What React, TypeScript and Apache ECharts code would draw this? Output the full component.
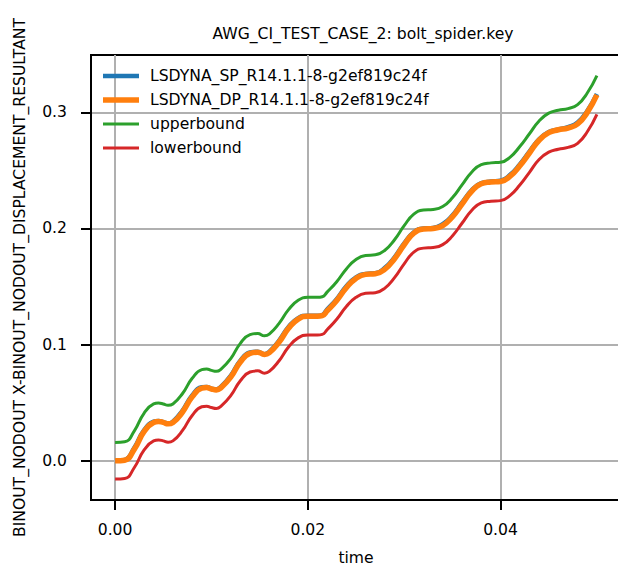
import React, { useEffect, useRef } from "react";
import * as echarts from "echarts";

const TITLE = "AWG_CI_TEST_CASE_2: bolt_spider.key";
const X_NAME = "time";
const Y_NAME = "BINOUT_NODOUT X-BINOUT_NODOUT_DISPLACEMENT_RESULTANT";

const X_TICKS = [0, 0.02, 0.04];
const Y_TICKS = [0, 0.1, 0.2, 0.3];

const SERIES_NAMES = [
  "LSDYNA_SP_R14.1.1-8-g2ef819c24f",
  "LSDYNA_DP_R14.1.1-8-g2ef819c24f",
  "upperbound",
  "lowerbound",
];

const times = [
  0, 0.001, 0.002, 0.003, 0.004, 0.0045, 0.005, 0.0055, 0.006, 0.007, 0.008,
  0.009, 0.0095, 0.01, 0.0105, 0.011, 0.012, 0.013, 0.014, 0.0148, 0.0155,
  0.016, 0.017, 0.018, 0.019, 0.02, 0.021, 0.0215, 0.022, 0.023, 0.024, 0.025,
  0.026, 0.027, 0.028, 0.029, 0.03, 0.031, 0.032, 0.033, 0.034, 0.035, 0.036,
  0.037, 0.038, 0.039, 0.04, 0.041, 0.042, 0.043, 0.044, 0.045, 0.046, 0.047,
  0.048, 0.049, 0.05,
];

const dpValues = [
  0, 0.0005, 0.01, 0.025, 0.033, 0.0338, 0.033, 0.0318, 0.033, 0.042, 0.055,
  0.0625, 0.063, 0.0618, 0.061, 0.063, 0.072, 0.085, 0.0925, 0.0935, 0.0915,
  0.093, 0.102, 0.114, 0.122, 0.1245, 0.1245, 0.125, 0.129, 0.138, 0.149, 0.157,
  0.1605, 0.161, 0.165, 0.174, 0.186, 0.196, 0.1995, 0.2, 0.2025, 0.21, 0.221,
  0.232, 0.2385, 0.24, 0.2405, 0.245, 0.254, 0.265, 0.276, 0.2825, 0.285,
  0.2865, 0.29, 0.3, 0.315,
];

const spValues = [
  0, 0.0008, 0.0112, 0.0262, 0.0336, 0.0342, 0.0333, 0.0321, 0.0336, 0.0432,
  0.0562, 0.0632, 0.0634, 0.0621, 0.0614, 0.0638, 0.0732, 0.0862, 0.0932,
  0.0939, 0.0918, 0.0938, 0.1032, 0.1152, 0.1228, 0.1249, 0.1248, 0.1255,
  0.1302, 0.1392, 0.1502, 0.1578, 0.1609, 0.1614, 0.1662, 0.1752, 0.1872,
  0.1968, 0.2, 0.2004, 0.2037, 0.2112, 0.2222, 0.2328, 0.239, 0.2404, 0.2412,
  0.2462, 0.2552, 0.2662, 0.2768, 0.283, 0.2854, 0.2872, 0.2912, 0.3012, 0.3158,
];

const upperValues = [
  0.0158, 0.0163, 0.0258, 0.0409, 0.0489, 0.0497, 0.0489, 0.0477, 0.0489,
  0.0579, 0.071, 0.0785, 0.079, 0.0778, 0.077, 0.079, 0.088, 0.1011, 0.1086,
  0.1096, 0.1076, 0.1091, 0.1181, 0.1301, 0.1382, 0.1407, 0.1407, 0.1412,
  0.1452, 0.1542, 0.1652, 0.1733, 0.1768, 0.1773, 0.1813, 0.1903, 0.2024,
  0.2124, 0.2159, 0.2164, 0.2189, 0.2264, 0.2375, 0.2485, 0.255, 0.2565, 0.257,
  0.2615, 0.2706, 0.2816, 0.2926, 0.2993, 0.3018, 0.3032, 0.3067, 0.3167,
  0.3317,
];

const lowerValues = [
  -0.0158, -0.0153, -0.0058, 0.0091, 0.0171, 0.0179, 0.0171, 0.0159, 0.0171,
  0.0261, 0.039, 0.0465, 0.047, 0.0458, 0.045, 0.047, 0.056, 0.0689, 0.0764,
  0.0774, 0.0754, 0.0769, 0.0859, 0.0979, 0.1058, 0.1083, 0.1083, 0.1088,
  0.1128, 0.1218, 0.1328, 0.1407, 0.1442, 0.1447, 0.1487, 0.1577, 0.1696,
  0.1796, 0.1831, 0.1836, 0.1861, 0.1936, 0.2045, 0.2155, 0.222, 0.2235, 0.224,
  0.2285, 0.2374, 0.2484, 0.2594, 0.2657, 0.2682, 0.2698, 0.2733, 0.2833,
  0.2983,
];

const COLORS = ["#1f77b4", "#ff7f0e", "#2ca02c", "#d62728"];
const WIDTHS = [4.5, 5.5, 3, 3];
const LEGEND_ROWS = [76, 100, 124, 148];
const FONT = "DejaVu Sans";

export default function App() {
  const ref = useRef<HTMLDivElement>(null);

  useEffect(() => {
    if (!ref.current) return;
    const chart = echarts.init(ref.current, undefined, { renderer: "svg" });
    const valueSets = [spValues, dpValues, upperValues, lowerValues];
    const series = SERIES_NAMES.map((name, i) => ({
      name,
      type: "line",
      data: times.map((t, j) => [t, valueSets[i][j]]),
      symbol: "none",
      showSymbol: false,
      smooth: 0.5,
      lineStyle: { color: COLORS[i], width: WIDTHS[i] },
      itemStyle: { color: COLORS[i] },
      z: 2 + i,
    }));

    const legends = SERIES_NAMES.map((name, i) => ({
      orient: "vertical",
      left: 103,
      top: LEGEND_ROWS[i] - 9,
      padding: 0,
      itemWidth: 36,
      itemHeight: WIDTHS[i],
      icon: "rect",
      textStyle: {
        fontFamily: FONT,
        fontSize: 15.6,
        lineHeight: 18,
        color: "#000",
        padding: [0, 0, 0, 6],
      },
      data: [{ name, icon: "rect", itemStyle: { color: COLORS[i] } }],
    }));

    chart.setOption({
      animation: false,
      backgroundColor: "#ffffff",
      textStyle: { fontFamily: FONT },
      title: {
        text: TITLE,
        left: 363,
        top: 26,
        textAlign: "center",
        padding: 0,
        textStyle: {
          fontFamily: FONT,
          fontSize: 15.6,
          fontWeight: "normal",
          color: "#000",
        },
      },
      legend: legends,
      grid: {
        left: 91,
        top: 55,
        width: 530,
        height: 445,
        show: true,
        borderColor: "#000",
        borderWidth: 2,
        containLabel: false,
      },
      xAxis: {
        type: "value",
        min: -0.0025,
        max: 0.0525,
        name: X_NAME,
        nameLocation: "middle",
        nameGap: 50,
        nameTextStyle: { fontFamily: FONT, fontSize: 15.6, color: "#000" },
        axisLine: { show: true, onZero: false, lineStyle: { color: "#000", width: 2 } },
        axisTick: {
          show: true,
          length: 10,
          lineStyle: { color: "#000", width: 2 },
          customValues: X_TICKS,
        },
        axisLabel: {
          margin: 22,
          fontFamily: FONT,
          fontSize: 15.6,
          color: "#000",
          customValues: X_TICKS,
          formatter: (v: number) => v.toFixed(2),
        },
        splitLine: { show: true, lineStyle: { color: "#b0b0b0", width: 2 } },
      },
      yAxis: {
        type: "value",
        min: -0.0338,
        max: 0.3494,
        name: Y_NAME,
        nameLocation: "middle",
        nameGap: 63,
        nameTextStyle: { fontFamily: FONT, fontSize: 15.6, color: "#000" },
        axisLine: { show: true, onZero: false, lineStyle: { color: "#000", width: 2 } },
        axisTick: {
          show: true,
          length: 10,
          lineStyle: { color: "#000", width: 2 },
          customValues: Y_TICKS,
        },
        axisLabel: {
          margin: 24,
          fontFamily: FONT,
          fontSize: 15.6,
          color: "#000",
          customValues: Y_TICKS,
          formatter: (v: number) => v.toFixed(1),
        },
        splitLine: { show: true, lineStyle: { color: "#b0b0b0", width: 2 } },
      },
      series,
    });

    return () => chart.dispose();
  }, []);

  return (
    <div
      style={{
        position: "absolute",
        left: 0,
        top: 0,
        width: 618,
        height: 571,
        overflow: "hidden",
        background: "#fff",
      }}
    >
      <div ref={ref} style={{ width: 621, height: 571 }} />
    </div>
  );
}
